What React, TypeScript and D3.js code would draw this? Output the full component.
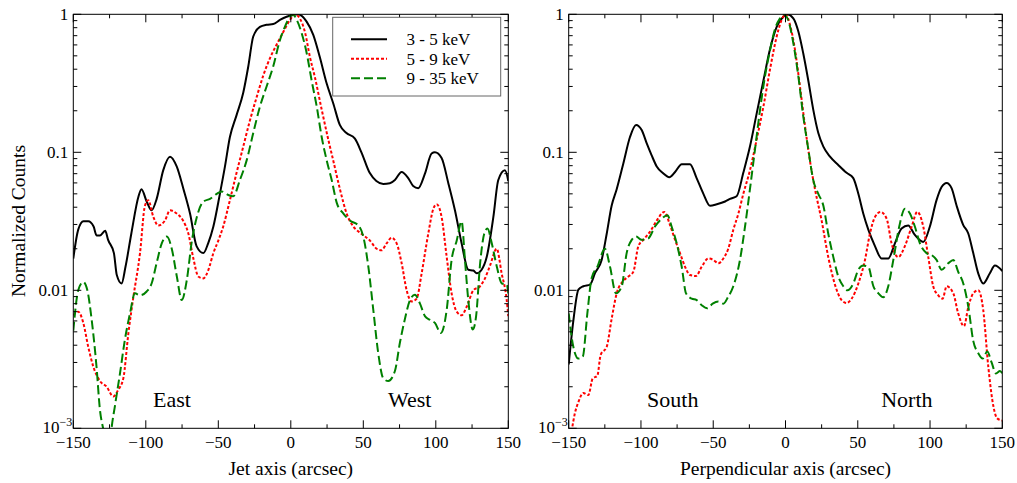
import React from 'react';
import * as d3 from 'd3';

const seriesNames = ['3 - 5 keV', '5 - 9 keV', '9 - 35 keV'];
const seriesColors = ['#000000', '#ff0000', '#008000'];
const seriesDash = ['none', '3,2', '9,4'];

const xMajorTicks = [-150, -100, -50, 0, 50, 100, 150];
const xMinorTicks = [-125, -75, -25, 25, 75, 125];
const yMajorTicks = [0.001, 0.01, 0.1, 1];
const yTickLabels = ['10', '0.01', '0.1', '1'];

// ---- Jet axis panel ----
const jetSoftX = [-150, -146.6, -143, -139.7, -136, -134, -131.6, -128, -126, -122, -120, -116.7, -114, -110, -105, -103, -99.4, -96, -92.5, -88, -83.3, -78.7, -74, -69.5, -65, -60.3, -57, -53.4, -48.9, -45.4, -42, -37.4, -32.8, -29.3, -25.9, -21.3, -16.7, -12.1, -7.5, -2.9, 1.7, 5, 10.9, 15.5, 20, 24.7, 29.3, 33.8, 38.4, 44.1, 48.7, 54.4, 59, 63.8, 68.3, 71.8, 76.4, 81, 84.4, 87.9, 92.5, 97.1, 99.4, 104, 108.6, 113.2, 117.8, 122.4, 125.9, 128.2, 131.6, 135.1, 139.7, 143.1, 147.7, 150];
const jetSoftY = [0.017, 0.0275, 0.0316, 0.0316, 0.029, 0.025, 0.025, 0.027, 0.0232, 0.0186, 0.0129, 0.0112, 0.0148, 0.0257, 0.048, 0.054, 0.044, 0.038, 0.046, 0.074, 0.093, 0.079, 0.054, 0.036, 0.0209, 0.0186, 0.0219, 0.029, 0.05, 0.079, 0.129, 0.186, 0.27, 0.42, 0.69, 0.81, 0.84, 0.85, 0.91, 0.96, 0.99, 1.0, 0.885, 0.71, 0.49, 0.316, 0.226, 0.158, 0.138, 0.126, 0.1, 0.071, 0.062, 0.059, 0.0596, 0.063, 0.072, 0.065, 0.057, 0.055, 0.07, 0.098, 0.1, 0.091, 0.06, 0.038, 0.0219, 0.0141, 0.0139, 0.0133, 0.0141, 0.0174, 0.034, 0.063, 0.074, 0.062];

const jetMidX = [-150, -146.6, -143.1, -139.7, -136.2, -131.6, -127, -122.4, -119, -115.5, -112, -108.6, -104, -100.6, -98.3, -94.8, -91.4, -86.8, -83.3, -78.7, -74.3, -70.7, -67.2, -63.8, -60.3, -56.9, -53.4, -50, -46.6, -42, -37.4, -32.8, -28.2, -23.6, -19, -14.4, -9.9, -5.3, -0.6, 2.9, 6.3, 9.8, 13.2, 16.7, 21.3, 25.9, 29.3, 33.9, 38.5, 43.1, 48.7, 54.6, 59.2, 62.6, 66.1, 69.5, 73, 76.4, 79.9, 83.3, 86.8, 90.2, 94.8, 98.3, 100.6, 104, 107.5, 110.9, 114.4, 117.8, 121.3, 125.9, 130.5, 133.9, 137.4, 142, 145.4, 148.9, 150];
const jetMidY = [0.0066, 0.007, 0.0058, 0.0039, 0.0028, 0.0022, 0.002, 0.0017, 0.0019, 0.0023, 0.0049, 0.0089, 0.0186, 0.041, 0.045, 0.034, 0.0295, 0.032, 0.038, 0.036, 0.032, 0.0259, 0.017, 0.0126, 0.0122, 0.014, 0.0186, 0.0229, 0.029, 0.045, 0.071, 0.11, 0.17, 0.25, 0.36, 0.48, 0.6, 0.74, 0.91, 1.0, 0.93, 0.74, 0.49, 0.347, 0.204, 0.123, 0.087, 0.054, 0.036, 0.029, 0.0257, 0.0229, 0.02, 0.0195, 0.0219, 0.024, 0.0219, 0.0158, 0.01, 0.0083, 0.0087, 0.0132, 0.0257, 0.039, 0.042, 0.034, 0.0175, 0.0095, 0.007, 0.0066, 0.0076, 0.01, 0.0107, 0.0122, 0.0151, 0.02, 0.0133, 0.0085, 0.0065];

const jetHardX = [-150, -146.6, -143.1, -140.3, -137.4, -134, -131.6, -129.3, -127, -125, -123.6, -121.3, -117.8, -114.4, -110.9, -107.5, -104, -99.4, -96, -92.5, -89, -85.5, -82.1, -78.6, -75.2, -71.7, -68.2, -64.8, -60.2, -55.7, -51.1, -47.6, -43.1, -39.7, -35.1, -30.5, -25.9, -21.3, -16.7, -12.1, -7.5, -4.1, -0.6, 1.3, 4.1, 7.5, 11, 14.4, 17.9, 21.3, 24.8, 28.2, 31.7, 36.3, 40.8, 46.6, 50, 53.5, 56.9, 60.3, 63.8, 67.2, 71.8, 75.3, 78.7, 82.2, 85.6, 89.1, 92.5, 96, 99.4, 103.4, 107.5, 110.9, 114.4, 117.8, 120.1, 122.4, 125.5, 127.8, 130.6, 133.4, 135.6, 138.6, 142.1, 145.6, 149, 150];
const jetHardY = [0.0051, 0.01, 0.0115, 0.01, 0.0062, 0.0028, 0.00135, 0.00098, 0.0007, 0.0007, 0.001, 0.00145, 0.0025, 0.0044, 0.0068, 0.0095, 0.0092, 0.0098, 0.0112, 0.0158, 0.0219, 0.0245, 0.02, 0.0126, 0.0085, 0.0119, 0.0229, 0.034, 0.044, 0.046, 0.05, 0.052, 0.049, 0.048, 0.063, 0.087, 0.138, 0.214, 0.3, 0.42, 0.65, 0.81, 0.96, 1.0, 0.91, 0.73, 0.52, 0.33, 0.214, 0.129, 0.087, 0.063, 0.043, 0.036, 0.032, 0.0295, 0.0245, 0.0148, 0.0072, 0.0035, 0.0023, 0.0022, 0.0026, 0.0042, 0.0062, 0.0085, 0.0093, 0.008, 0.0065, 0.0061, 0.0058, 0.0049, 0.0072, 0.0166, 0.0229, 0.0316, 0.0166, 0.0085, 0.0052, 0.0065, 0.0158, 0.0257, 0.028, 0.0219, 0.0148, 0.0112, 0.011, 0.0095];

// ---- Perpendicular axis panel ----
const perpSoftX = [-150, -146.8, -143.3, -139.9, -135.2, -131.8, -127.2, -123.7, -120.3, -116.8, -112.2, -107.6, -103.4, -99.5, -96, -92.6, -89.1, -85, -80.4, -76.4, -71.8, -66.1, -61.5, -56.8, -52.2, -47.6, -41.8, -38.4, -33.8, -29.2, -24.6, -20, -15.3, -10.7, -6.1, -1.5, 1.3, 5.4, 8.9, 12.3, 15.8, 19.2, 22.7, 26.2, 30.8, 36.5, 42.3, 46.9, 50.4, 53.8, 57.3, 61.9, 66.5, 71.1, 75.7, 80.3, 84.9, 89.5, 95.3, 99.9, 104.5, 108, 111.5, 114.9, 118.4, 123, 126.4, 129.9, 133.4, 136.8, 141.4, 144.9, 150];
const perpSoftY = [0.0029, 0.006, 0.0101, 0.0107, 0.011, 0.0133, 0.0166, 0.0257, 0.041, 0.054, 0.083, 0.129, 0.158, 0.145, 0.116, 0.095, 0.079, 0.071, 0.066, 0.072, 0.082, 0.082, 0.065, 0.05, 0.041, 0.042, 0.044, 0.046, 0.048, 0.071, 0.11, 0.19, 0.33, 0.56, 0.81, 0.96, 1.0, 0.935, 0.75, 0.52, 0.33, 0.204, 0.138, 0.11, 0.093, 0.081, 0.071, 0.065, 0.05, 0.036, 0.0275, 0.0209, 0.017, 0.017, 0.0219, 0.028, 0.0295, 0.0252, 0.0224, 0.029, 0.045, 0.056, 0.06, 0.055, 0.041, 0.0297, 0.0259, 0.0186, 0.0132, 0.0112, 0.0133, 0.0151, 0.0138];

const perpMidX = [-148, -145.6, -143.3, -139.9, -136.4, -133.4, -130.2, -127.9, -123.7, -120.3, -116.8, -112.2, -108.7, -105.3, -101.8, -98.4, -93.7, -89.1, -83.8, -79.9, -76.4, -73, -69.5, -66.1, -61.9, -58, -53.4, -49.9, -46.5, -43, -39.6, -36.1, -32.6, -29.2, -24.6, -20, -15.3, -10.7, -6.1, -2.7, 0.1, 3.1, 6.6, 10, 13.5, 16.9, 20.4, 25, 29.6, 34.2, 38.8, 42.3, 45.8, 50.4, 55, 58.4, 61.9, 65.8, 70, 73.4, 78, 82.6, 87.3, 91.2, 95.3, 98.8, 102.2, 105.7, 108.7, 111.5, 116.1, 119.5, 123.5, 126.5, 129.9, 133.4, 136.8, 140.3, 143.8, 146.5, 150];
const perpMidY = [0.00095, 0.0013, 0.00155, 0.0018, 0.00174, 0.0023, 0.0024, 0.0034, 0.0039, 0.0062, 0.0095, 0.0117, 0.0126, 0.0136, 0.0209, 0.0232, 0.0266, 0.032, 0.037, 0.0297, 0.0232, 0.0186, 0.0148, 0.0129, 0.0127, 0.0148, 0.017, 0.0166, 0.0157, 0.017, 0.02, 0.0275, 0.036, 0.05, 0.074, 0.123, 0.214, 0.4, 0.69, 0.91, 1.0, 0.84, 0.55, 0.3, 0.155, 0.087, 0.054, 0.032, 0.0174, 0.011, 0.0085, 0.0081, 0.0087, 0.0112, 0.0166, 0.0257, 0.034, 0.037, 0.033, 0.0219, 0.0174, 0.0209, 0.029, 0.037, 0.029, 0.0174, 0.0107, 0.0092, 0.0087, 0.0107, 0.0095, 0.0068, 0.0055, 0.0076, 0.0095, 0.01, 0.0072, 0.0028, 0.00145, 0.00118, 0.00114];

const perpHardX = [-150, -146.8, -143.3, -140.3, -137.1, -134.1, -130.2, -124.9, -121.4, -117.3, -113.3, -109.9, -106.4, -103.4, -99.5, -94.9, -90.3, -85.7, -81.7, -78.8, -75.3, -71.8, -68.8, -64.9, -61.5, -58, -54.1, -50.4, -46.5, -43, -39.6, -36.1, -31.5, -28, -24.6, -21.1, -17.6, -14.2, -10.7, -7.3, -3.8, -1.2, 1.8, 5.4, 8.9, 12.3, 15.8, 19.2, 22.7, 26.2, 29.6, 33.1, 36.5, 40, 42.8, 46.9, 50.4, 53.8, 57.3, 60.8, 64.3, 67.7, 71.1, 74.6, 78.7, 82.6, 86.1, 89.5, 93, 97.6, 101.1, 104.5, 108, 112.6, 116.1, 119.5, 123, 126.5, 129.9, 133.4, 136.4, 139.6, 142.6, 145.6, 148.4, 150];
const perpHardY = [0.0068, 0.0039, 0.0032, 0.0033, 0.0068, 0.0123, 0.0148, 0.02, 0.0148, 0.0095, 0.0107, 0.0186, 0.0232, 0.0245, 0.0232, 0.0238, 0.029, 0.033, 0.035, 0.029, 0.0219, 0.0148, 0.0095, 0.0087, 0.0085, 0.0078, 0.0074, 0.008, 0.0083, 0.008, 0.009, 0.0107, 0.0166, 0.029, 0.054, 0.105, 0.204, 0.355, 0.55, 0.78, 0.935, 1.0, 0.91, 0.62, 0.355, 0.182, 0.105, 0.063, 0.05, 0.041, 0.0257, 0.0174, 0.0126, 0.0107, 0.01, 0.0112, 0.0141, 0.0151, 0.0148, 0.0107, 0.0095, 0.0089, 0.0107, 0.0166, 0.029, 0.039, 0.036, 0.029, 0.0219, 0.0186, 0.018, 0.0166, 0.0141, 0.0157, 0.0166, 0.0136, 0.0112, 0.0076, 0.0043, 0.0035, 0.0032, 0.0036, 0.003, 0.0025, 0.0026, 0.0025];

const jetSeries = [
  { xs: jetSoftX, ys: jetSoftY },
  { xs: jetMidX, ys: jetMidY },
  { xs: jetHardX, ys: jetHardY },
];
const perpSeries = [
  { xs: perpSoftX, ys: perpSoftY },
  { xs: perpMidX, ys: perpMidY },
  { xs: perpHardX, ys: perpHardY },
];

const FONT = '"Liberation Serif", "Times New Roman", serif';
const TOP = 14.3;
const BOTTOM = 428.3;

function Panel(props: {
  id: string;
  left: number;
  right: number;
  series: { xs: number[]; ys: number[] }[];
  title: string;
  regions: { text: string; x: number }[];
  showYTitle: boolean;
  legend: boolean;
}) {
  const { id, left, right, series, title, regions, showYTitle, legend } = props;
  const x = d3.scaleLinear().domain([-150, 150]).range([left, right]);
  const y = d3.scaleLog().domain([0.001, 1]).range([BOTTOM, TOP]);
  const line = d3
    .line<[number, number]>()
    .x((d) => x(d[0]))
    .y((d) => y(d[1]))
    .curve(d3.curveMonotoneX);

  const yMinor: number[] = [];
  [0.001, 0.01, 0.1].forEach((dec) => {
    for (let k = 2; k <= 9; k++) yMinor.push(dec * k);
  });

  const majorLen = 8;
  const minorLen = 4;
  const midX = (left + right) / 2;

  return (
    <g>
      <defs>
        <clipPath id={id}>
          <rect x={left} y={TOP} width={right - left} height={BOTTOM - TOP} />
        </clipPath>
      </defs>
      <g clipPath={`url(#${id})`}>
        {series.map((s, i) => (
          <path
            key={i}
            d={line(s.xs.map((v, j) => [v, s.ys[j]] as [number, number])) || ''}
            fill="none"
            stroke={seriesColors[i]}
            strokeWidth={2}
            strokeDasharray={seriesDash[i]}
          />
        ))}
      </g>
      <rect x={left} y={TOP} width={right - left} height={BOTTOM - TOP} fill="none" stroke="#000" strokeWidth={1} />
      {xMajorTicks.map((t) => (
        <g key={'xm' + t}>
          <line x1={x(t)} x2={x(t)} y1={BOTTOM} y2={BOTTOM - majorLen} stroke="#000" />
          <line x1={x(t)} x2={x(t)} y1={TOP} y2={TOP + majorLen} stroke="#000" />
          <text x={x(t)} y={448} textAnchor="middle" fontFamily={FONT} fontSize={17} fill="#000">
            {t < 0 ? '\u2212' + Math.abs(t) : String(t)}
          </text>
        </g>
      ))}
      {xMinorTicks.map((t) => (
        <g key={'xn' + t}>
          <line x1={x(t)} x2={x(t)} y1={BOTTOM} y2={BOTTOM - minorLen} stroke="#000" />
          <line x1={x(t)} x2={x(t)} y1={TOP} y2={TOP + minorLen} stroke="#000" />
        </g>
      ))}
      {yMajorTicks.map((t, i) => (
        <g key={'ym' + t}>
          <line x1={left} x2={left + majorLen} y1={y(t)} y2={y(t)} stroke="#000" />
          <line x1={right} x2={right - majorLen} y1={y(t)} y2={y(t)} stroke="#000" />
          {i === 0 ? (
            <text x={left - 1} y={y(t) + 5} textAnchor="end" fontFamily={FONT} fontSize={17} fill="#000">
              {yTickLabels[i]}
              <tspan fontSize={12} dy={-7}>{'\u22123'}</tspan>
            </text>
          ) : (
            <text x={left - 5} y={y(t)} dy="0.35em" textAnchor="end" fontFamily={FONT} fontSize={17} fill="#000">
              {yTickLabels[i]}
            </text>
          )}
        </g>
      ))}
      {yMinor.map((t) => (
        <g key={'yn' + t}>
          <line x1={left} x2={left + minorLen} y1={y(t)} y2={y(t)} stroke="#000" />
          <line x1={right} x2={right - minorLen} y1={y(t)} y2={y(t)} stroke="#000" />
        </g>
      ))}
      {regions.map((r) => (
        <text key={r.text} x={x(r.x)} y={407} textAnchor="middle" fontFamily={FONT} fontSize={22} fill="#000">
          {r.text}
        </text>
      ))}
      <text x={midX} y={475} textAnchor="middle" fontFamily={FONT} fontSize={19.5} fill="#000">
        {title}
      </text>
      {showYTitle && (
        <text
          transform={`translate(25, 221) rotate(-90)`}
          textAnchor="middle"
          fontFamily={FONT}
          fontSize={19.5}
          fill="#000"
        >
          Normalized Counts
        </text>
      )}
      {legend && (
        <g>
          <rect x={332.7} y={17.3} width={168} height={78.7} fill="#fff" stroke="#666" strokeWidth={1} />
          {seriesNames.map((n, i) => (
            <g key={n}>
              <line
                x1={351}
                x2={387}
                y1={39.3 + i * 19.5}
                y2={39.3 + i * 19.5}
                stroke={seriesColors[i]}
                strokeWidth={2}
                strokeDasharray={seriesDash[i]}
              />
              <text x={406.5} y={39.3 + i * 19.5} dy="0.35em" fontFamily={FONT} fontSize={17} fill="#000">
                {n}
              </text>
            </g>
          ))}
        </g>
      )}
    </g>
  );
}

export default function App() {
  return (
    <svg
      width={1017}
      height={483}
      style={{ position: 'absolute', left: 0, top: 0, background: '#fff' }}
    >
      <rect x={0} y={0} width={1017} height={483} fill="#fff" />
      <Panel
        id="clipJet"
        left={73.3}
        right={508.3}
        series={jetSeries}
        title="Jet axis (arcsec)"
        regions={[
          { text: 'East', x: -82 },
          { text: 'West', x: 82 },
        ]}
        showYTitle={true}
        legend={true}
      />
      <Panel
        id="clipPerp"
        left={568.7}
        right={1002.3}
        series={perpSeries}
        title="Perpendicular axis (arcsec)"
        regions={[
          { text: 'South', x: -78 },
          { text: 'North', x: 84 },
        ]}
        showYTitle={false}
        legend={false}
      />
    </svg>
  );
}
